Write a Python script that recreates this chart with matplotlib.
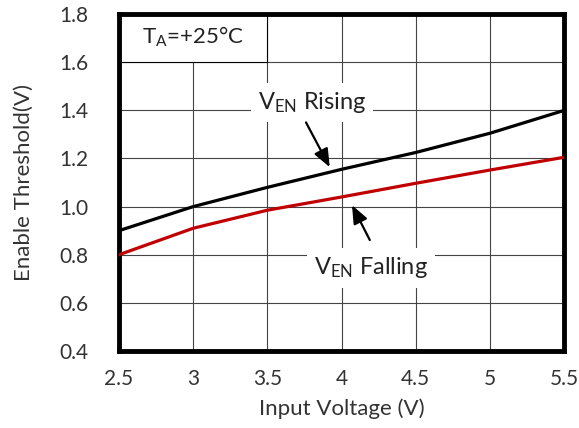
import matplotlib
matplotlib.use("Agg")
from matplotlib import pyplot as plt
from matplotlib.patches import Rectangle

plt.rcParams['font.family'] = ['Lato', 'DejaVu Sans']
plt.rcParams['mathtext.default'] = 'regular'

# enable threshold vs input voltage
vin = [2.5, 3.0, 3.5, 4.0, 4.5, 5.0, 5.5]
ven_rising = [0.90, 1.00, 1.08, 1.155, 1.225, 1.305, 1.40]
ven_falling = [0.80, 0.91, 0.985, 1.04, 1.097, 1.152, 1.205]

x_ticks = [2.5, 3, 3.5, 4, 4.5, 5, 5.5]
x_labels = ['2.5', '3', '3.5', '4', '4.5', '5', '5.5']
y_ticks = [0.4, 0.6, 0.8, 1.0, 1.2, 1.4, 1.6, 1.8]

fig = plt.figure(figsize=(5.79, 4.28), dpi=100)
ax = fig.add_axes([0.2055, 0.18, 0.769, 0.787])

ax.plot(vin, ven_rising, color='black', lw=2.3, zorder=3)
ax.plot(vin, ven_falling, color='#c00000', lw=2.3, zorder=3)

ax.set_xlim(2.5, 5.5)
ax.set_ylim(0.4, 1.8)
ax.set_xticks(x_ticks)
ax.set_xticklabels(x_labels)
ax.set_yticks(y_ticks)
ax.set_yticklabels(['%.1f' % v for v in y_ticks])
ax.tick_params(length=0, labelsize=15, colors='#333333')
ax.tick_params(axis='x', pad=13)
ax.tick_params(axis='y', pad=22)
ax.grid(True, color='#444444', lw=0.8)
ax.set_axisbelow(True)
for s in ax.spines.values():
    s.set_linewidth(3.5)
    s.set_color('black')

ax.set_xlabel('Input Voltage (V)', fontsize=16, color='#333333', labelpad=7)
ax.set_ylabel('Enable Threshold(V)', fontsize=16, color='#333333', labelpad=18)

# temperature box in the top-left grid cells
ax.add_patch(Rectangle((2.5, 1.6), 1.0, 0.2, facecolor='white',
                       edgecolor='black', lw=0.8, zorder=2))
ax.text(3.0, 1.705, r'$T_A$=+25°C', fontsize=16, ha='center', va='center',
        color='#222222', zorder=4)

bbox = dict(boxstyle='square,pad=0.3', fc='white', ec='none')
arrow = dict(arrowstyle='-|>,head_width=0.45,head_length=1.1',
             color='black', lw=1.6, shrinkA=0, shrinkB=0)

ax.text(3.80, 1.434, r'$V_{EN}$ Rising', fontsize=17, ha='center',
        va='center', color='#222222', bbox=bbox, zorder=4)
ax.annotate('', xy=(3.92, 1.164), xytext=(3.76, 1.35),
            arrowprops=arrow, zorder=4)

ax.text(4.20, 0.745, r'$V_{EN}$ Falling', fontsize=17, ha='center',
        va='center', color='#222222', bbox=bbox, zorder=4)
ax.annotate('', xy=(4.07, 1.006), xytext=(4.19, 0.861),
            arrowprops=arrow, zorder=4)

fig.savefig('out.png', dpi=100)
